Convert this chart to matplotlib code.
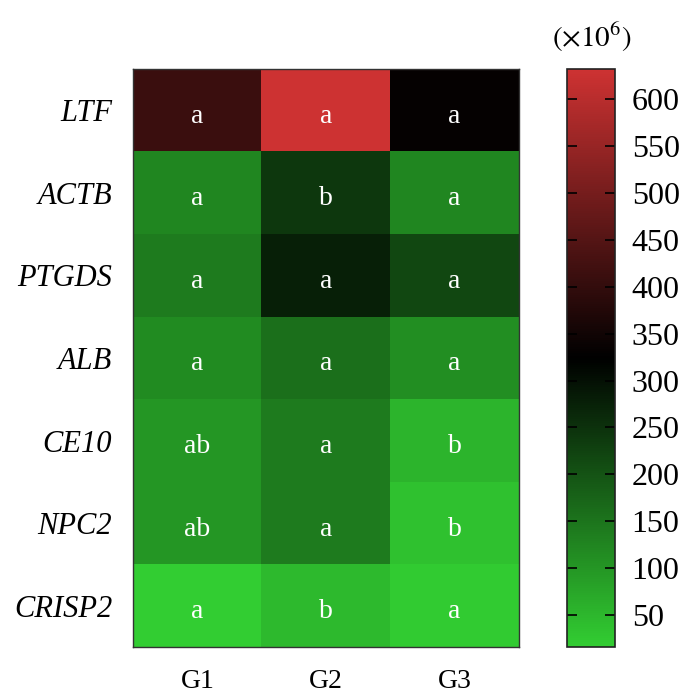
import numpy as np
import matplotlib
matplotlib.use("Agg")
import matplotlib.pyplot as plt
from matplotlib.colors import LinearSegmentedColormap

genes = ["LTF", "ACTB", "PTGDS", "ALB", "CE10", "NPC2", "CRISP2"]
groups = ["G1", "G2", "G3"]

# expression (x10^6), rows = genes, cols = G1..G3
g1 = [413, 123, 141, 117, 99, 99, 16]
g2 = [632, 241, 276, 156, 141, 141, 45]
g3 = [333, 123, 216, 111, 54, 33, 20]

letters_g1 = ["a", "a", "a", "a", "ab", "ab", "a"]
letters_g2 = ["a", "b", "a", "a", "a", "a", "b"]
letters_g3 = ["a", "a", "a", "a", "b", "b", "a"]

plt.rcParams["font.family"] = ["Liberation Serif", "DejaVu Serif"]
plt.rcParams["mathtext.fontset"] = "stix"

vals = np.array([g1, g2, g3]).T
letters = np.array([letters_g1, letters_g2, letters_g3]).T

cmap = LinearSegmentedColormap.from_list(
    "gkr", [(50/255, 205/255, 50/255), (0, 0, 0), (205/255, 50/255, 50/255)])

fig = plt.figure(figsize=(6.86, 6.97), dpi=100)
W, H = 686, 697
ax = fig.add_axes([133/W, 1 - 647/H, (519-133)/W, (647-69)/H])
cax = fig.add_axes([567/W, 1 - 647/H, (615-567)/W, (647-69)/H])

vmin, vmax = vals.min(), vals.max()
im = ax.imshow(vals, cmap=cmap, vmin=vmin, vmax=vmax, aspect="auto")

for i in range(len(genes)):
    for j in range(len(groups)):
        ax.text(j, i + 0.15, letters[i, j], ha="center", va="baseline",
                color="white", fontsize=20)

ax.set_yticks(range(len(genes)))
ax.set_yticklabels(genes, fontstyle="italic", fontsize=22)
ax.set_xticks(range(len(groups)))
ax.set_xticklabels(groups, fontsize=20)
ax.tick_params(axis="y", length=0, pad=15)
ax.tick_params(axis="x", length=0, pad=16)
for s in ax.spines.values():
    s.set_color("#333333")
    s.set_linewidth(1.0)

cb = fig.colorbar(im, cax=cax)
cb.set_ticks(np.arange(50, 601, 50))
cax.tick_params(labelsize=23, direction="in", length=7, width=1.2,
                left=True, right=True, pad=12)
cb.outline.set_linewidth(1.2)
cb.outline.set_edgecolor("#222222")
fig.text(592/W, 1 - 37/H, r"$(\times10^6)$", ha="center", va="center", fontsize=21)

fig.savefig("out.png", dpi=100)
